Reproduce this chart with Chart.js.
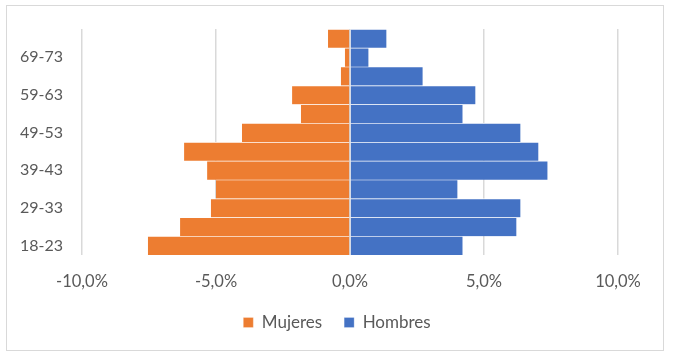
<!DOCTYPE html>
<html>
<head>
<meta charset="utf-8">
<script src="https://cdn.jsdelivr.net/npm/chart.js@4"></script>
<style>
  html, body { margin: 0; padding: 0; background: #fff; }
  #wrap { position: relative; width: 674px; height: 356px; }
  #frame { position: absolute; left: 6px; top: 5px; width: 656px; height: 344px; border: 1.5px solid #d9d9d9; box-sizing: content-box; pointer-events: none; }
  canvas { position: absolute; left: 0; top: 0; }
</style>
</head>
<body>
<div id="wrap">
  <canvas id="c" width="674" height="356"></canvas>
  <div id="frame"></div>
</div>
<script>
const categories = ["18-23","24-28","29-33","34-38","39-43","44-48","49-53","54-58","59-63","64-68","69-73","74-78"];
const mujeres = [-7.54, -6.34, -5.19, -5.0, -5.33, -6.19, -4.03, -1.83, -2.16, -0.34, -0.19, -0.82];
const hombres = [4.2, 6.21, 6.36, 4.01, 7.37, 7.03, 6.36, 4.2, 4.68, 2.71, 0.69, 1.36];
const seriesNames = ["Mujeres", "Hombres"];
const xTicks = [-10, -5, 0, 5, 10];

const textColor = '#595959';
Chart.defaults.font.family = 'Lato';
Chart.defaults.color = textColor;

const barBorder = {top: 1, bottom: 0, left: 0, right: 0};

// Center the legend on the whole canvas (as in the reference)
const legendCenter = {
  id: 'legendCenter',
  afterLayout(chart) {
    if (chart.legend) {
      chart.legend.left = 0;
      chart.legend.right = chart.width;
      chart.legend.width = chart.width;
    }
  }
};

new Chart(document.getElementById('c'), {
  type: 'bar',
  data: {
    labels: categories,
    datasets: [
      { label: seriesNames[0], data: mujeres, backgroundColor: '#ED7D31', borderColor: '#ffffff', borderWidth: barBorder, borderSkipped: false, barPercentage: 1, categoryPercentage: 1 },
      { label: seriesNames[1], data: hombres, backgroundColor: '#4472C4', borderColor: '#ffffff', borderWidth: barBorder, borderSkipped: false, barPercentage: 1, categoryPercentage: 1 }
    ]
  },
  plugins: [legendCenter],
  options: {
    indexAxis: 'y',
    responsive: false,
    animation: false,
    layout: { padding: { left: 0, right: 56, top: 29, bottom: 15 } },
    scales: {
      x: {
        stacked: true,
        min: xTicks[0],
        max: xTicks[xTicks.length - 1],
        afterBuildTicks: (s) => { s.ticks = xTicks.map(v => ({ value: v })); },
        ticks: {
          padding: 17,
          font: { size: 16.5 },
          color: textColor,
          callback: (v) => v.toFixed(1).replace('.', ',') + '%'
        },
        grid: { color: '#d9d9d9', lineWidth: 1.5, drawTicks: false },
        border: { display: false },
        afterFit: (s) => { s.height = 37; }
      },
      y: {
        stacked: true,
        reverse: true,
        ticks: {
          autoSkip: false,
          padding: 19,
          font: { size: 16 },
          color: textColor,
          callback: function(v, i) { return i % 2 === 0 ? this.getLabelForValue(v) : ''; }
        },
        grid: { display: false, drawTicks: false },
        border: { display: false },
        afterFit: (s) => { s.width = 82; }
      }
    },
    plugins: {
      legend: {
        position: 'bottom',
        labels: {
          boxWidth: 10,
          boxHeight: 10,
          padding: 22,
          font: { size: 17 },
          color: textColor
        }
      },
      tooltip: { enabled: false }
    }
  }
});
</script>
</body>
</html>
